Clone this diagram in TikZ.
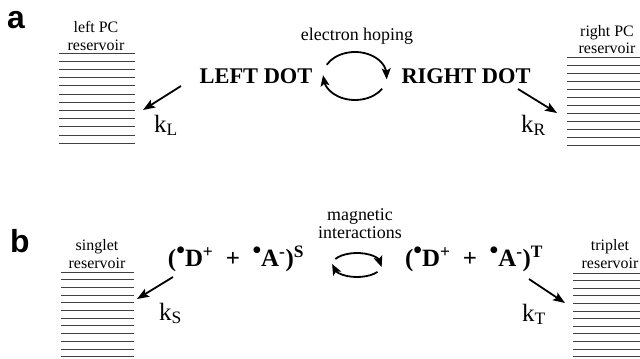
\documentclass[tikz,border=0pt]{standalone}
\usepackage{fontspec}
\setmainfont{Liberation Serif}
\newfontfamily\panelfont{Liberation Sans}
\usetikzlibrary{arrows.meta,bending}
\newcommand{\rad}{\raisebox{.32em}{\textbullet}}
\begin{document}
\begin{tikzpicture}[x=1bp,y=-1bp,
  resline/.style={line width=0.9bp, black!75},
  rate/.style={line width=1.8bp, -{Stealth[length=12bp,width=9bp,inset=2.5bp]}},
  cycarrow/.style={line width=1.8bp, -{Stealth[length=11bp,width=9bp,inset=2.5bp]}},
  dotlabel/.style={font=\fontsize{22.5}{26}\selectfont\bfseries, inner sep=0},
  formula/.style={font=\fontsize{25}{28}\selectfont\bfseries, inner sep=0},
  reslabel/.style={font=\fontsize{16}{19}\selectfont, inner sep=0, align=center},
  proclabel/.style={font=\fontsize{18}{18}\selectfont, inner sep=0, align=center},
  ratelabel/.style={font=\fontsize{25}{28}\selectfont, inner sep=0},
  panel/.style={font=\panelfont\fontsize{32}{36}\selectfont\bfseries, inner sep=0}]
\useasboundingbox (0,0) rectangle (640,358);

% ---------- panel a ----------
\node[panel, anchor=base west] (pa) at (7,28) {a};

\node[reslabel, anchor=base] (resLa) at (96,32) {left PC};
\node[reslabel, anchor=base] (resLb) at (96,50) {reservoir};
\foreach \i in {0,...,11} \draw[resline] (59,53+8.2*\i) -- (135,53+8.2*\i);

\node[reslabel, anchor=base] (resRa) at (607,36) {right PC};
\node[reslabel, anchor=base] (resRb) at (607,53) {reservoir};
\foreach \i in {0,...,11} \draw[resline] (567,57+8*\i) -- (640,57+8*\i);

\node[dotlabel, anchor=base] (ldot) at (256,83) {LEFT DOT};
\node[dotlabel, anchor=base] (rdot) at (466,83) {RIGHT DOT};
\node[proclabel, anchor=base] (hop) at (357,40) {electron hoping};

\coordinate (cyca) at (355,76);
\draw[cycarrow] (cyca) ++(-152:32 and 24) arc[start angle=-152, end angle=8, x radius=32, y radius=24];
\draw[cycarrow] (cyca) ++(32:32 and 24) arc[start angle=32, end angle=182, x radius=32, y radius=24];

\coordinate (aLs) at (181,86);
\coordinate (aLe) at (143,110);
\draw[rate] (aLs) -- (aLe);
\coordinate (aRs) at (518,89);
\coordinate (aRe) at (557,113);
\draw[rate] (aRs) -- (aRe);
\node[ratelabel, anchor=base west] (kL) at (154,132) {k\textsubscript{L}};
\node[ratelabel, anchor=base west] (kR) at (521,132) {k\textsubscript{R}};

% ---------- panel b ----------
\node[panel, anchor=base west] (pb) at (10,252) {b};

\node[reslabel, anchor=base] (resSa) at (97,250) {singlet};
\node[reslabel, anchor=base] (resSb) at (97,268) {reservoir};
\foreach \i in {0,...,11} \draw[resline] (61,272+7.7*\i) -- (134,272+7.7*\i);

\node[reslabel, anchor=base] (resTa) at (610,250) {triplet};
\node[reslabel, anchor=base] (resTb) at (610,268) {reservoir};
\foreach \i in {0,...,11} \draw[resline] (573,273+7.6*\i) -- (640,273+7.6*\i);

\node[formula, anchor=base] (sing) at (236,266)
  {(\rad D\textsuperscript{+}\ \ +\ \ \rad A\textsuperscript{-})\textsuperscript{S}};
\node[formula, anchor=base] (trip) at (474,266)
  {(\rad D\textsuperscript{+}\ \ +\ \ \rad A\textsuperscript{-})\textsuperscript{T}};
\node[proclabel, anchor=base] (magA) at (360,220) {magnetic};
\node[proclabel, anchor=base] (magB) at (360,238) {interactions};

\coordinate (cycb) at (357,265);
\draw[cycarrow] (cycb) ++(-150:25 and 12) arc[start angle=-150, end angle=10, x radius=25, y radius=12];
\draw[cycarrow] (cycb) ++(35:25 and 12) arc[start angle=35, end angle=185, x radius=25, y radius=12];

\coordinate (bLs) at (173,277);
\coordinate (bLe) at (137,299);
\draw[rate] (bLs) -- (bLe);
\coordinate (bRs) at (529,279);
\coordinate (bRe) at (565,303);
\draw[rate] (bRs) -- (bRe);
\node[ratelabel, anchor=base west] (kS) at (159,320) {k\textsubscript{S}};
\node[ratelabel, anchor=base west] (kT) at (522,321) {k\textsubscript{T}};
\end{tikzpicture}
\end{document}
